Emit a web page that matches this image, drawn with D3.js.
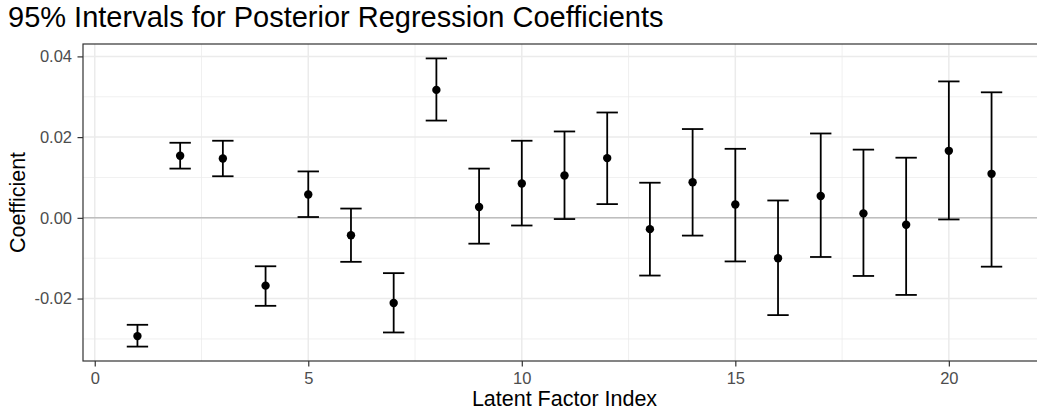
<!DOCTYPE html>
<html>
<head>
<meta charset="utf-8">
<script src="https://cdn.jsdelivr.net/npm/d3@7"></script>
<style>
  body { margin: 0; background: #fff; }
  text { font-family: "Liberation Sans", Arial, sans-serif; }
</style>
</head>
<body>
<script>
(function() {
    var w = 1037;
    var h = 412;

    // latent factor index, posterior mean and 95% bounds
    var factorIndex = [1, 2, 3, 4, 5, 6, 7, 8, 9, 10, 11, 12, 13, 14, 15, 16, 17, 18, 19, 20, 21];
    var meanCoef = [-0.0293, 0.0154, 0.0147, -0.0168, 0.0058, -0.0043, -0.0211, 0.0317, 0.0027, 0.0085,
                    0.0105, 0.0148, -0.0028, 0.0088, 0.0033, -0.0100, 0.0054, 0.0011, -0.0017, 0.0166, 0.0109];
    var lowerCoef = [-0.0319, 0.0122, 0.0103, -0.0218, 0.0002, -0.0109, -0.0284, 0.0241, -0.0064, -0.0019,
                     -0.0003, 0.0034, -0.0143, -0.0044, -0.0108, -0.0241, -0.0097, -0.0144, -0.0191, -0.0004, -0.0121];
    var upperCoef = [-0.0265, 0.0186, 0.0191, -0.0120, 0.0115, 0.0023, -0.0137, 0.0395, 0.0122, 0.0191,
                     0.0214, 0.0261, 0.0087, 0.0220, 0.0171, 0.0043, 0.0209, 0.0169, 0.0149, 0.0338, 0.0311];

    var xTicks = [0, 5, 10, 15, 20];
    var xMinor = [2.5, 7.5, 12.5, 17.5];
    var yTicks = [-0.02, 0, 0.02, 0.04];
    var yMinor = [-0.03, -0.01, 0.01, 0.03];

    var data = factorIndex.map(function(d, i) {
        return {idx: d, mean: meanCoef[i], lo: lowerCoef[i], hi: upperCoef[i]};
    });

    var left = 83, top = 44, right = 1046, bottom = 361;
    var capW = 0.5;

    // ggplot-style 5% expansion
    var xlo = d3.min(factorIndex) - capW / 2, xhi = d3.max(factorIndex) + capW / 2;
    var xpad = (xhi - xlo) * 0.05;
    var ylo = d3.min(lowerCoef), yhi = d3.max(upperCoef);
    var ypad = (yhi - ylo) * 0.05;

    var x = d3.scaleLinear().domain([xlo - xpad, xhi + xpad]).range([left, right]);
    var y = d3.scaleLinear().domain([ylo - ypad, yhi + ypad]).range([bottom, top]);

    var svg = d3.select("body").append("svg").attr("width", w).attr("height", h);

    svg.append("rect").attr("x", left).attr("y", top)
        .attr("width", right - left).attr("height", bottom - top).attr("fill", "#fff");

    var grid = svg.append("g");
    grid.selectAll(".ymin").data(yMinor).enter().append("line")
        .attr("x1", left).attr("x2", right)
        .attr("y1", function(d) { return y(d); }).attr("y2", function(d) { return y(d); })
        .attr("stroke", "#EBEBEB").attr("stroke-width", 0.75);
    grid.selectAll(".xmin").data(xMinor).enter().append("line")
        .attr("y1", top).attr("y2", bottom)
        .attr("x1", function(d) { return x(d); }).attr("x2", function(d) { return x(d); })
        .attr("stroke", "#EBEBEB").attr("stroke-width", 0.75);
    grid.selectAll(".ymaj").data(yTicks).enter().append("line")
        .attr("x1", left).attr("x2", right)
        .attr("y1", function(d) { return y(d); }).attr("y2", function(d) { return y(d); })
        .attr("stroke", "#EBEBEB").attr("stroke-width", 1.5);
    grid.selectAll(".xmaj").data(xTicks).enter().append("line")
        .attr("y1", top).attr("y2", bottom)
        .attr("x1", function(d) { return x(d); }).attr("x2", function(d) { return x(d); })
        .attr("stroke", "#EBEBEB").attr("stroke-width", 1.5);

    // zero reference line
    svg.append("line")
        .attr("x1", left).attr("x2", right)
        .attr("y1", y(0)).attr("y2", y(0))
        .attr("stroke", "#BEBEBE").attr("stroke-width", 1.5);

    // error bars
    var bars = svg.append("g").selectAll("g").data(data).enter().append("g")
        .attr("stroke", "#000").attr("stroke-width", 1.8);
    bars.append("line")
        .attr("x1", function(d) { return x(d.idx); }).attr("x2", function(d) { return x(d.idx); })
        .attr("y1", function(d) { return y(d.lo); }).attr("y2", function(d) { return y(d.hi); });
    bars.append("line")
        .attr("x1", function(d) { return x(d.idx - capW / 2); }).attr("x2", function(d) { return x(d.idx + capW / 2); })
        .attr("y1", function(d) { return y(d.lo); }).attr("y2", function(d) { return y(d.lo); });
    bars.append("line")
        .attr("x1", function(d) { return x(d.idx - capW / 2); }).attr("x2", function(d) { return x(d.idx + capW / 2); })
        .attr("y1", function(d) { return y(d.hi); }).attr("y2", function(d) { return y(d.hi); });

    svg.append("g").selectAll("circle").data(data).enter().append("circle")
        .attr("cx", function(d) { return x(d.idx); })
        .attr("cy", function(d) { return y(d.mean); })
        .attr("r", 4.2)
        .attr("fill", "#000");

    // panel border
    svg.append("rect").attr("x", left).attr("y", top)
        .attr("width", right - left).attr("height", bottom - top)
        .attr("fill", "none").attr("stroke", "#333333").attr("stroke-width", 1.2);

    // axes
    var xAxis = svg.append("g").attr("transform", "translate(0," + bottom + ")")
        .call(d3.axisBottom(x).tickValues(xTicks).tickSize(5.5).tickPadding(5.5).tickFormat(d3.format("d")));
    var yAxis = svg.append("g").attr("transform", "translate(" + left + ",0)")
        .call(d3.axisLeft(y).tickValues(yTicks).tickSize(5.5).tickPadding(5.5).tickFormat(d3.format(".2f")));
    [xAxis, yAxis].forEach(function(a) {
        a.select(".domain").remove();
        a.selectAll(".tick line").attr("stroke", "#333333").attr("stroke-width", 1.2);
        a.selectAll(".tick text").attr("fill", "#4D4D4D").style("font-size", "16.5px")
            .style("font-family", "'Liberation Sans', Arial, sans-serif");
    });
    yAxis.selectAll(".tick text").text(function(d) { return d3.format(".2f")(d).replace("\u2212", "-"); });

    svg.append("text")
        .attr("x", (left + right) / 2).attr("y", 406)
        .attr("text-anchor", "middle")
        .style("font-size", "21.5px").attr("fill", "#000")
        .text("Latent Factor Index");

    svg.append("text")
        .attr("transform", "translate(25," + ((top + bottom) / 2) + ") rotate(-90)")
        .attr("text-anchor", "middle")
        .style("font-size", "21.5px").attr("fill", "#000")
        .text("Coefficient");

    svg.append("text")
        .attr("x", 8).attr("y", 27)
        .style("font-size", "29px").attr("fill", "#000")
        .text("95% Intervals for Posterior Regression Coefficients");
})();
</script>
</body>
</html>
